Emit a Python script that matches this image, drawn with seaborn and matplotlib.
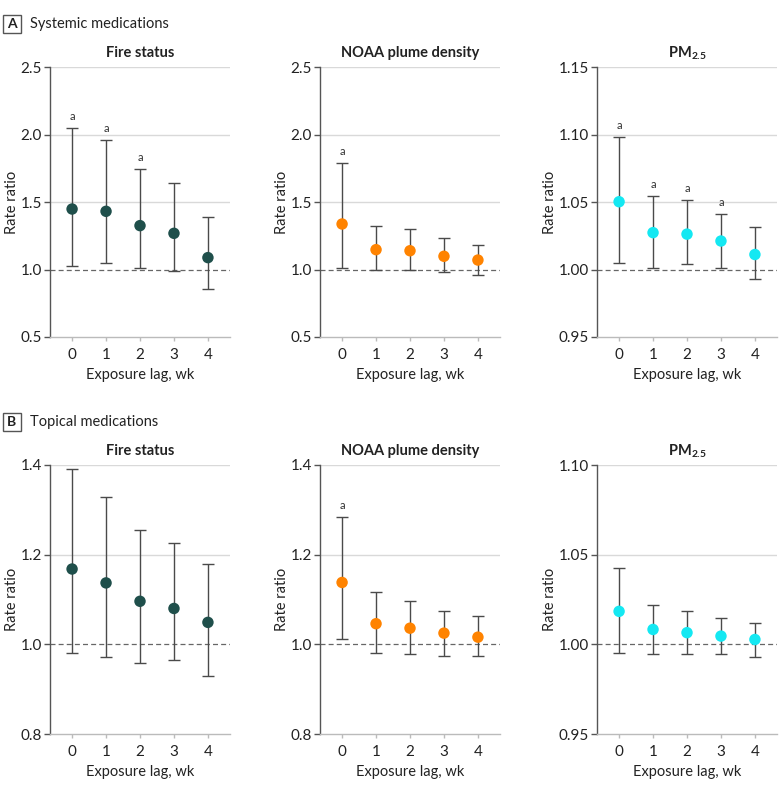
import numpy as np
import pandas as pd
import matplotlib
matplotlib.use("Agg")
import matplotlib.pyplot as plt
import seaborn as sns
from matplotlib.patches import Rectangle

sns.set_style("white")
plt.rcParams['font.family'] = ['Lato', 'DejaVu Sans']
plt.rcParams['mathtext.fontset'] = 'custom'
plt.rcParams['mathtext.rm'] = 'Lato'
plt.rcParams['mathtext.bf'] = 'Lato:bold'

lags = [0, 1, 2, 3, 4]

# Panel A: Systemic medications
a_fire_est = [1.448, 1.431, 1.325, 1.268, 1.088]
a_fire_lo = [1.028, 1.045, 1.009, 0.989, 0.853]
a_fire_hi = [2.048, 1.959, 1.742, 1.638, 1.391]
a_fire_sig = [1, 1, 1, 0, 0]

a_noaa_est = [1.337, 1.147, 1.139, 1.098, 1.070]
a_noaa_lo = [1.009, 0.996, 1.000, 0.984, 0.956]
a_noaa_hi = [1.791, 1.325, 1.302, 1.231, 1.181]
a_noaa_sig = [1, 0, 0, 0, 0]

a_pm_est = [1.0502, 1.0273, 1.0262, 1.0211, 1.0111]
a_pm_lo = [1.0046, 1.0008, 1.0038, 1.0008, 0.9927]
a_pm_hi = [1.0980, 1.0544, 1.0513, 1.0414, 1.0313]
a_pm_sig = [1, 1, 1, 1, 0]

# Panel B: Topical medications
b_fire_est = [1.168, 1.137, 1.096, 1.080, 1.049]
b_fire_lo = [0.980, 0.971, 0.958, 0.964, 0.930]
b_fire_hi = [1.390, 1.329, 1.254, 1.225, 1.179]
b_fire_sig = [0, 0, 0, 0, 0]

b_noaa_est = [1.138, 1.046, 1.036, 1.025, 1.016]
b_noaa_lo = [1.012, 0.980, 0.978, 0.975, 0.973]
b_noaa_hi = [1.284, 1.116, 1.097, 1.074, 1.064]
b_noaa_sig = [1, 0, 0, 0, 0]

b_pm_est = [1.0184, 1.0083, 1.0065, 1.0046, 1.0027]
b_pm_lo = [0.9951, 0.9946, 0.9946, 0.9946, 0.9927]
b_pm_hi = [1.0427, 1.0217, 1.0186, 1.0147, 1.0117]
b_pm_sig = [0, 0, 0, 0, 0]

titles = ["Fire status", "NOAA plume density", r"PM$_{\mathbf{2.5}}$"]
colors = ["#1f4f4b", "#ff8300", "#14e8f2"]

a_yticks = [[0.5, 1.0, 1.5, 2.0, 2.5], [0.5, 1.0, 1.5, 2.0, 2.5], [0.95, 1.00, 1.05, 1.10, 1.15]]
b_yticks = [[0.8, 1.0, 1.2, 1.4], [0.8, 1.0, 1.2, 1.4], [0.95, 1.00, 1.05, 1.10]]

panels = [
    [(a_fire_est, a_fire_lo, a_fire_hi, a_fire_sig),
     (a_noaa_est, a_noaa_lo, a_noaa_hi, a_noaa_sig),
     (a_pm_est, a_pm_lo, a_pm_hi, a_pm_sig)],
    [(b_fire_est, b_fire_lo, b_fire_hi, b_fire_sig),
     (b_noaa_est, b_noaa_lo, b_noaa_hi, b_noaa_sig),
     (b_pm_est, b_pm_lo, b_pm_hi, b_pm_sig)],
]
yticks_all = [a_yticks, b_yticks]

fig = plt.figure(figsize=(7.8, 7.89), dpi=100)
W, H = 780, 789
lefts = [50, 320, 597]
tops = [67, 465]
bottoms = [337, 734]
aw = 180
ylabel_px = [12, 282, 550]

for r in range(2):
    for c in range(3):
        est, lo, hi, sig = panels[r][c]
        ah = bottoms[r] - tops[r]
        ax = fig.add_axes([lefts[c] / W, 1 - bottoms[r] / H, aw / W, ah / H])
        df = pd.DataFrame({"lag": lags, "est": est, "lo": lo, "hi": hi})
        ticks = yticks_all[r][c]
        ylo, yhi = ticks[0], ticks[-1]
        for t in ticks[1:]:
            if abs(t - 1.0) > 1e-9:
                ax.axhline(t, color="#d9d9d9", lw=1.0, zorder=0)
        ax.axhline(1.0, color="#666666", lw=0.9, ls=(0, (4, 2.5)), zorder=1)
        ax.errorbar(df["lag"], df["est"],
                    yerr=[df["est"] - df["lo"], df["hi"] - df["est"]],
                    fmt="none", ecolor="#4a4a4a", elinewidth=1.0, capsize=4.2, capthick=1.0, zorder=2)
        sns.scatterplot(data=df, x="lag", y="est", ax=ax, color=colors[c], s=68,
                        edgecolor="none", zorder=3, legend=False)
        span = yhi - ylo
        for x, h, s in zip(lags, hi, sig):
            if s:
                ax.text(x, h + span * 0.022, "a", ha="center", va="bottom", fontsize=8, color="#333333")
        ax.set_xlim(-0.65, 4.65)
        ax.set_ylim(ylo, yhi)
        ax.set_yticks(ticks)
        fmt = "{:.1f}" if c < 2 else "{:.2f}"
        ax.set_yticklabels([fmt.format(t) for t in ticks])
        ax.set_xticks(lags)
        ax.set_xticklabels([str(l) for l in lags])
        for sp in ["top", "right"]:
            ax.spines[sp].set_visible(False)
        ax.spines["left"].set_color("#555555")
        ax.spines["left"].set_linewidth(1.0)
        ax.spines["bottom"].set_color("#bbbbbb")
        ax.spines["bottom"].set_linewidth(1.0)
        ax.tick_params(axis="y", which="major", left=True, length=4, width=1, color="#555555",
                       labelsize=11, labelcolor="#222222", pad=2)
        ax.tick_params(axis="x", which="major", bottom=True, length=3, width=1, color="#bbbbbb",
                       labelsize=11, labelcolor="#222222", pad=5)
        ax.set_xlabel("Exposure lag, wk", fontsize=10.5, color="#222222")
        ax.xaxis.set_label_coords(0.5, -(375 - 337) / 270)
        ax.xaxis.label.set_va("center")
        ax.set_ylabel("Rate ratio", fontsize=10.5, color="#222222")
        ax.yaxis.set_label_coords((ylabel_px[c] - lefts[c]) / aw, 0.5)
        ax.yaxis.label.set_va("center")
        ax.set_title(titles[c], fontsize=10.5, fontweight="bold", color="#222222", pad=7)

# Panel headers
for lab, txt, ytop in [("A", "Systemic medications", 5), ("B", "Topical medications", 403)]:
    fig.patches.append(Rectangle((3 / W, 1 - (ytop + 28) / H), 18 / W, 18 / H,
                                 transform=fig.transFigure, fill=False, edgecolor="#555555", lw=1.0))
    fig.text(12 / W, 1 - (ytop + 19) / H, lab, ha="center", va="center", fontsize=10,
             fontweight="bold", color="#222222")
    fig.text(30 / W, 1 - (ytop + 19) / H, txt, ha="left", va="center", fontsize=10.5, color="#222222")

fig.savefig("out.png", dpi=100)
